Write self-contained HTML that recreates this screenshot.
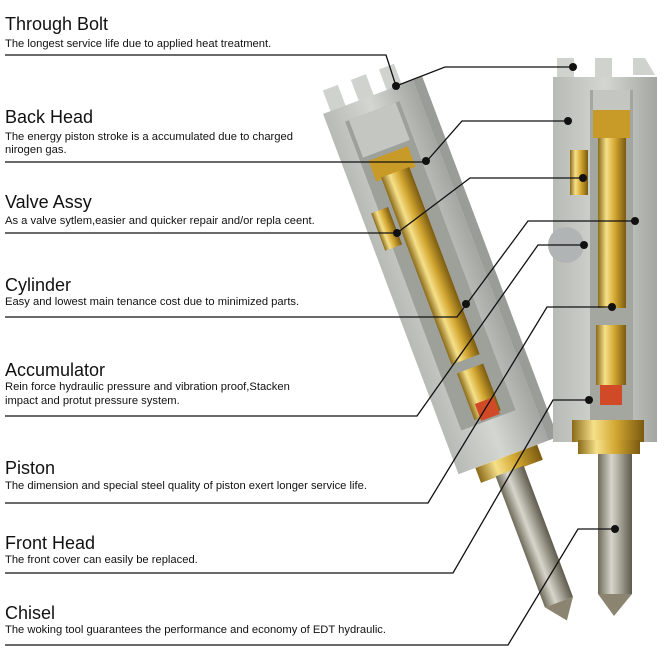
<!DOCTYPE html>
<html><head><meta charset="utf-8"><style>
html,body{margin:0;padding:0;background:#fff;}
svg{display:block;}
.t{font-family:"Liberation Sans",sans-serif;font-size:18px;fill:#111;}
.d{font-family:"Liberation Sans",sans-serif;font-size:11.2px;fill:#111;}
</style></head><body>
<svg width="666" height="654" viewBox="0 0 666 654" xmlns="http://www.w3.org/2000/svg">
<defs>
<linearGradient id="gold" x1="0" x2="1" y1="0" y2="0">
<stop offset="0" stop-color="#8a6a18"/><stop offset="0.3" stop-color="#f6e08a"/><stop offset="0.6" stop-color="#d4a832"/><stop offset="1" stop-color="#7a5a10"/></linearGradient>
<linearGradient id="steel" x1="0" x2="1" y1="0" y2="0">
<stop offset="0" stop-color="#6e6a5a"/><stop offset="0.4" stop-color="#d8d6cc"/><stop offset="1" stop-color="#5e5a4c"/></linearGradient>
<linearGradient id="body" x1="0" x2="1" y1="0" y2="0">
<stop offset="0" stop-color="#b8bab6"/><stop offset="0.5" stop-color="#d4d6d2"/><stop offset="1" stop-color="#a4a6a2"/></linearGradient>
</defs>

<!-- left tool -->
<g transform="translate(368,97) rotate(-20.6)">
<rect x="-40" y="-22" width="16" height="24" fill="#d0d2ce"/>
<rect x="-10" y="-22" width="16" height="24" fill="#d0d2ce"/>
<rect x="20" y="-22" width="16" height="24" fill="#d0d2ce"/>
<rect x="-48" y="0" width="96" height="385" fill="url(#body)"/>
<rect x="48" y="0" width="10" height="385" fill="#9a9c98"/>
<rect x="-30" y="15" width="58" height="330" fill="#9ea09a"/>
<rect x="-26" y="15" width="50" height="40" fill="#c4c6c2"/>
<rect x="-22" y="60" width="42" height="22" fill="#c89a28"/>
<rect x="-16" y="80" width="30" height="200" fill="url(#gold)"/>
<rect x="-38" y="110" width="18" height="40" fill="url(#gold)"/>
<rect x="-14" y="290" width="28" height="50" fill="url(#gold)"/>
<rect x="-8" y="325" width="20" height="18" fill="#d04a28"/>
<rect x="-30" y="385" width="66" height="16" fill="url(#gold)"/>
<rect x="-14" y="400" width="30" height="140" fill="url(#steel)"/>
<polygon points="-14,540 16,540 2,560" fill="#8a8470"/>
</g>

<!-- right tool -->
<rect x="557" y="58" width="17" height="20" fill="#d0d2ce"/>
<rect x="595" y="58" width="17" height="20" fill="#d0d2ce"/>
<polygon points="633,58 645,58 655,75 633,75" fill="#d0d2ce"/>
<rect x="553" y="77" width="104" height="365" fill="url(#body)"/>
<rect x="590" y="90" width="43" height="330" fill="#a4a6a0"/>
<rect x="593" y="90" width="37" height="20" fill="#c4c6c2"/>
<rect x="593" y="110" width="37" height="28" fill="#c89a28"/>
<rect x="598" y="138" width="28" height="170" fill="url(#gold)"/>
<rect x="570" y="150" width="18" height="45" fill="url(#gold)"/>
<circle cx="566" cy="245" r="18" fill="#b0b4b4"/>
<rect x="596" y="325" width="30" height="60" fill="url(#gold)"/>
<rect x="600" y="385" width="22" height="20" fill="#d04a28"/>
<rect x="572" y="420" width="72" height="22" fill="url(#gold)"/>
<rect x="578" y="440" width="62" height="14" fill="url(#gold)"/>
<rect x="598" y="454" width="34" height="140" fill="url(#steel)"/>
<polygon points="598,594 632,594 614,616" fill="#8a8470"/>

<!-- connectors -->
<g stroke="#111" stroke-width="1.3" fill="none">
<polyline points="5,55 386,55 396,86 445,67 573,67"/>
<polyline points="5,162 426,162 462,121 568,121"/>
<polyline points="5,233 397,233 470,178 583,178"/>
<polyline points="5,317 457,317 528,221 635,221"/>
<polyline points="5,416 417,416 538,245 584,245"/>
<polyline points="5,503 428,503 547,307 612,307"/>
<polyline points="5,573 453,573 553,400 589,400"/>
<polyline points="5,645 508,645 578,529 615,529"/>
</g>
<g fill="#111">
<circle cx="396" cy="86" r="4"/><circle cx="573" cy="67" r="4"/>
<circle cx="426" cy="161" r="4"/><circle cx="568" cy="121" r="4"/>
<circle cx="397" cy="233" r="4"/><circle cx="583" cy="178" r="4"/>
<circle cx="466" cy="304" r="4"/><circle cx="635" cy="221" r="4"/>
<circle cx="584" cy="245" r="4"/><circle cx="612" cy="307" r="4"/>
<circle cx="589" cy="400" r="4"/><circle cx="615" cy="529" r="4"/>
</g>

<text class="t" x="5" y="30">Through Bolt</text>
<text class="d" x="5" y="47">The longest service life due to applied heat treatment.</text>
<text class="t" x="5" y="123">Back Head</text>
<text class="d" x="5" y="140">The energy piston stroke is a accumulated due to charged</text>
<text class="d" x="5" y="153">nirogen gas.</text>
<text class="t" x="5" y="208">Valve Assy</text>
<text class="d" x="5" y="224">As a valve sytlem,easier and quicker repair and/or repla ceent.</text>
<text class="t" x="5" y="291">Cylinder</text>
<text class="d" x="5" y="305">Easy and lowest main tenance cost due to minimized parts.</text>
<text class="t" x="5" y="376">Accumulator</text>
<text class="d" x="5" y="390">Rein force hydraulic pressure and vibration proof,Stacken</text>
<text class="d" x="5" y="404">impact and protut pressure system.</text>
<text class="t" x="5" y="474">Piston</text>
<text class="d" x="5" y="489">The dimension and special steel quality of piston exert longer service life.</text>
<text class="t" x="5" y="549">Front Head</text>
<text class="d" x="5" y="563">The front cover can easily be replaced.</text>
<text class="t" x="5" y="619">Chisel</text>
<text class="d" x="5" y="633">The woking tool guarantees the performance and economy of EDT hydraulic.</text>
</svg>
</body></html>
